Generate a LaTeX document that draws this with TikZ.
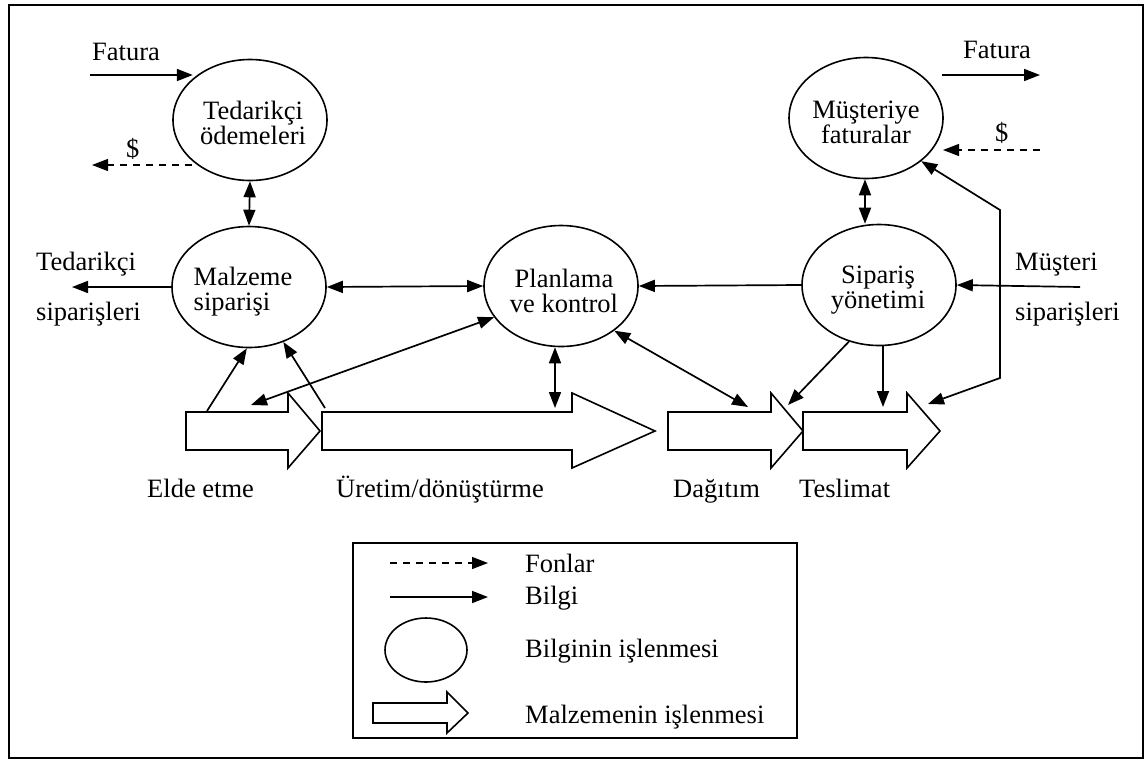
\documentclass[tikz,border=0pt]{standalone}
\usepackage{fontspec}
\setmainfont{Liberation Serif}
\usetikzlibrary{arrows.meta,shapes.geometric}
\begin{document}
\begin{tikzpicture}[x=1pt,y=-1pt,
  info/.style={-{Triangle[length=16pt,width=12pt]}, line width=1.7pt},
  infob/.style={{Triangle[length=16pt,width=12pt]}-{Triangle[length=16pt,width=12pt]}, line width=1.7pt},
  fund/.style={-{Triangle[length=16pt,width=12pt]}, line width=1.2pt, dash pattern=on 7pt off 6pt},
  proc/.style={ellipse, draw, line width=1.6pt, minimum width=154pt, minimum height=121pt, inner sep=0pt},
  ptxt/.style={align=center, inner sep=0pt, font=\fontsize{26.5}{25}\selectfont},
  lbl/.style={anchor=base west, inner sep=0pt, font=\fontsize{26.5}{30}\selectfont},
  mat/.style={draw, line width=1.6pt, fill=white, line join=miter}
]
\useasboundingbox (0,0) rectangle (1148,761);
\draw[line width=2.6pt] (9,5) rectangle (1143,758);

% information processes
\node[proc] (ted) at (250,120) {};
\node[proc] (mal) at (249,287) {};
\node[proc] (pla) at (561,286) {};
\node[proc] (sip) at (879,285) {};
\node[proc] (mus) at (866,118) {};
\node[ptxt] (tedT) at (253,123) {Tedarikçi\\ödemeleri};
\node[ptxt, align=left] (malT) at (243,292) {Malzeme\\siparişi};
\node[ptxt] (plaT) at (564,291) {Planlama\\ve kontrol};
\node[ptxt] (sipT) at (878,290) {Sipariş\\yönetimi};
\node[ptxt] (musT) at (866,122) {Müşteriye\\faturalar};

% outside labels
\node[lbl] (fatLt) at (92,60) {Fatura};
\node[lbl] (dolLt) at (126,157) {\$};
\node[lbl] (tedS1) at (36,270) {Tedarikçi};
\node[lbl] (tedS2) at (36,320) {siparişleri};
\node[lbl] (fatRt) at (963,58) {Fatura};
\node[lbl] (dolRt) at (995,141) {\$};
\node[lbl] (musS1) at (1015,270) {Müşteri};
\node[lbl] (musS2) at (1015,320) {siparişleri};

% material flow
\draw[mat] (322,412) -- (572,412) -- (572,393) -- (655,431) -- (572,468) -- (572,450) -- (322,450) -- cycle;
\draw[mat] (186,412) -- (288,412) -- (288,393) -- (320,431) -- (288,468) -- (288,450) -- (186,450) -- cycle;
\draw[mat] (803,412) -- (907,412) -- (907,393) -- (940,431) -- (907,468) -- (907,450) -- (803,450) -- cycle;
\draw[mat] (668,412) -- (771,412) -- (771,393) -- (803,431) -- (771,468) -- (771,450) -- (668,450) -- cycle;
\node[lbl] (eldeL) at (147,497) {Elde etme};
\node[lbl] (uretL) at (336,497) {Üretim/dönüştürme};
\node[lbl] (dagL) at (673,497) {Dağıtım};
\node[lbl] (tesL) at (799,497) {Teslimat};

% free ends
\coordinate (fatL) at (90,75);
\coordinate (dolL) at (92,165);
\coordinate (tsL) at (72,287);
\coordinate (fatR1) at (942,75);
\coordinate (fatR2) at (1040,75);
\coordinate (dolR1) at (1040,150);
\coordinate (dolR2) at (943,150);
\coordinate (msR) at (1080,287);
\coordinate (bendTop) at (1000,210);
\coordinate (bendBot) at (1000,378);
\coordinate (tesIn) at (928,404);
\coordinate (eldeA) at (207,411);
\coordinate (eldeB) at (251,405);
\coordinate (uretA) at (325,408);
\coordinate (uretT) at (555,408);
\coordinate (dagT) at (748,407);
\coordinate (junT) at (788,405);
\coordinate (tesT) at (883,407);

% connectors
\draw[info] (fatL) -- (fatL -| ted.144);
\draw[fund] (dolL -| ted.215) -- (dolL);
\draw[infob] (ted.south) -- (mal.north);
\draw[info] (mal.west) -- (tsL);
\draw[infob] (mal.east) -- (pla.west);
\draw[info] (sip.west) -- (pla.east);
\draw[info] (msR) -- (sip.east);
\draw[infob] (mus.south -| 865,0) -- (sip.north -| 865,0);
\draw[info] (fatR1) -- (fatR2);
\draw[fund] (dolR1) -- (dolR2);
\draw[infob] (tesIn) -- (bendBot) -- (bendTop) -- (mus.-38);
\draw[info] (sip.-118) -- (junT);
\draw[info] (tesT |- sip.south) -- (tesT);
\draw[infob] (pla.-40) -- (dagT);
\draw[infob] (pla.south -| uretT) -- (uretT);
\draw[infob] (pla.205) -- (eldeB);
\draw[info] (eldeA) -- (mal.-92);
\draw[info] (uretA) -- (mal.-58);

% legend
\draw[line width=1.6pt] (353,543) rectangle (797,738);
\coordinate (lg1a) at (390,563);
\coordinate (lg1b) at (488,563);
\coordinate (lg2a) at (390,597);
\coordinate (lg2b) at (488,597);
\draw[fund] (lg1a) -- (lg1b);
\draw[info] (lg2a) -- (lg2b);
\node[ellipse, draw, line width=1.6pt, minimum width=82pt, minimum height=64pt, inner sep=0pt] (lgE) at (426,650) {};
\draw[mat] (373,703) -- (447,703) -- (447,692) -- (468,713) -- (447,733) -- (447,723) -- (373,723) -- cycle;
\node[lbl] (lgT1) at (525,572) {Fonlar};
\node[lbl] (lgT2) at (525,604) {Bilgi};
\node[lbl] (lgT3) at (525,657) {Bilginin işlenmesi};
\node[lbl] (lgT4) at (525,723) {Malzemenin işlenmesi};
\end{tikzpicture}
\end{document}
